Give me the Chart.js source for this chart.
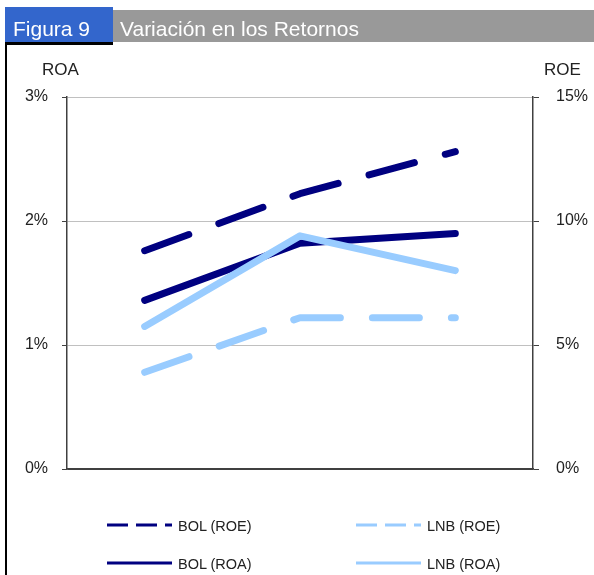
<!DOCTYPE html>
<html>
<head>
<meta charset="utf-8">
<script src="https://cdn.jsdelivr.net/npm/chart.js@4.4.0/dist/chart.umd.min.js"></script>
<style>
body{margin:0;background:#fff;font-family:"Liberation Sans",Arial,sans-serif;}
#wrap{position:relative;width:594px;height:575px;overflow:hidden;}
#chartCanvas{position:absolute;left:0;top:0;}
.bar{position:absolute;color:#fff;font-size:21px;line-height:21px;white-space:nowrap;}
#figBox{left:5px;top:7px;width:108px;height:35px;background:#3366cc;}
#grayBox{left:113px;top:10px;width:481px;height:32px;background:#999999;}
.lbl{position:absolute;font-size:17px;line-height:17px;color:#222;}
.leg{position:absolute;font-size:14.5px;line-height:14.5px;color:#222;white-space:nowrap;}
</style>
</head>
<body>
<div id="wrap">
  <canvas id="chartCanvas" width="594" height="575"></canvas>
  <div class="bar" id="figBox"></div>
  <div class="bar" id="grayBox"></div>
  <div class="bar" style="left:13px;top:17.5px;">Figura 9</div>
  <div class="bar" style="left:120px;top:17.5px;">Variación en los Retornos</div>
  <div style="position:absolute;left:5px;top:42px;width:108px;height:3px;background:#000;"></div>
  <div style="position:absolute;left:5px;top:42px;width:2px;height:533px;background:#000;"></div>
  <div class="lbl" style="left:42px;top:61px;">ROA</div>
  <div class="lbl" style="left:544px;top:61px;">ROE</div>
  <div id="legend"></div>
</div>
<script>
// datos (periodos sin etiqueta en el original)
const categories = ["P1", "P2", "P3"];
const bolRoe = [8.8, 11.1, 12.8];
const lnbRoe = [3.9, 6.1, 6.1];
const bolRoa = [1.36, 1.82, 1.90];
const lnbRoa = [1.15, 1.88, 1.60];
const roaTicks = [0, 1, 2, 3];
const roeTicks = [0, 5, 10, 15];

const navy = "#000080";
const sky = "#99ccff";
const axisColor = "#404040";

function serie(label, data, color, axis, dashed, order) {
    return {
        label: label, data: data, yAxisID: axis, order: order,
        borderColor: color, backgroundColor: color, borderWidth: 7,
        borderDash: dashed ? [47, 32] : [], borderCapStyle: "round", borderJoinStyle: "round",
        pointRadius: 0, tension: 0, fill: false
    };
}

const datasets = [
    serie("BOL (ROE)", bolRoe, navy, "roe", true, 4),
    serie("LNB (ROE)", lnbRoe, sky, "roe", true, 3),
    serie("BOL (ROA)", bolRoa, navy, "roa", false, 2),
    serie("LNB (ROA)", lnbRoa, sky, "roa", false, 1)
];

const tickFont = { family: "'Liberation Sans', Arial, sans-serif", size: 16 };

const chart = new Chart(document.getElementById("chartCanvas").getContext("2d"), {
    type: "line",
    data: { labels: categories, datasets: datasets },
    options: {
        responsive: false, animation: false,
        layout: { padding: { top: 97, bottom: 106, left: 0, right: 0 } },
        plugins: { legend: { display: false }, tooltip: { enabled: false } },
        scales: {
            x: {
                type: "category", offset: true,
                grid: { display: false },
                ticks: { display: false },
                border: { display: true, color: axisColor, width: 1.5 },
                afterFit: s => { s.height = 0; }
            },
            roa: {
                position: "left", min: 0, max: 3,
                afterBuildTicks: s => { s.ticks = roaTicks.map(v => ({ value: v })); },
                ticks: { callback: v => v + "%", font: tickFont, color: "#222", padding: 14 },
                grid: {
                    color: c => c.tick && c.tick.value === 0 ? axisColor : "#c0c0c0",
                    tickColor: axisColor, tickLength: 5, lineWidth: 1
                },
                border: { color: axisColor, width: 1.5 },
                afterFit: s => { s.width = 67; }
            },
            roe: {
                position: "right", min: 0, max: 15,
                afterBuildTicks: s => { s.ticks = roeTicks.map(v => ({ value: v })); },
                ticks: { callback: v => v + "%", font: tickFont, color: "#222", padding: 17 },
                grid: { drawOnChartArea: false, tickColor: axisColor, tickLength: 6, lineWidth: 1 },
                border: { color: axisColor, width: 1.5 },
                afterFit: s => { s.width = 61; }
            }
        }
    }
});

// leyenda 2x2 armada desde los datasets
const legendPos = [
    { x: 107, y: 525 }, { x: 356, y: 525 },
    { x: 107, y: 563 }, { x: 356, y: 563 }
];
const legend = document.getElementById("legend");
datasets.forEach((ds, i) => {
    const p = legendPos[i];
    const dash = ds.borderDash.length ? 'stroke-dasharray="21 8"' : "";
    legend.insertAdjacentHTML("beforeend",
        `<svg style="position:absolute;left:${p.x}px;top:${p.y - 3}px" width="66" height="6">` +
        `<line x1="0" y1="3" x2="65" y2="3" stroke="${ds.borderColor}" stroke-width="3" ${dash}/></svg>` +
        `<div class="leg" style="left:${p.x + 71}px;top:${p.y - 6}px">${ds.label}</div>`);
});
</script>
</body>
</html>
